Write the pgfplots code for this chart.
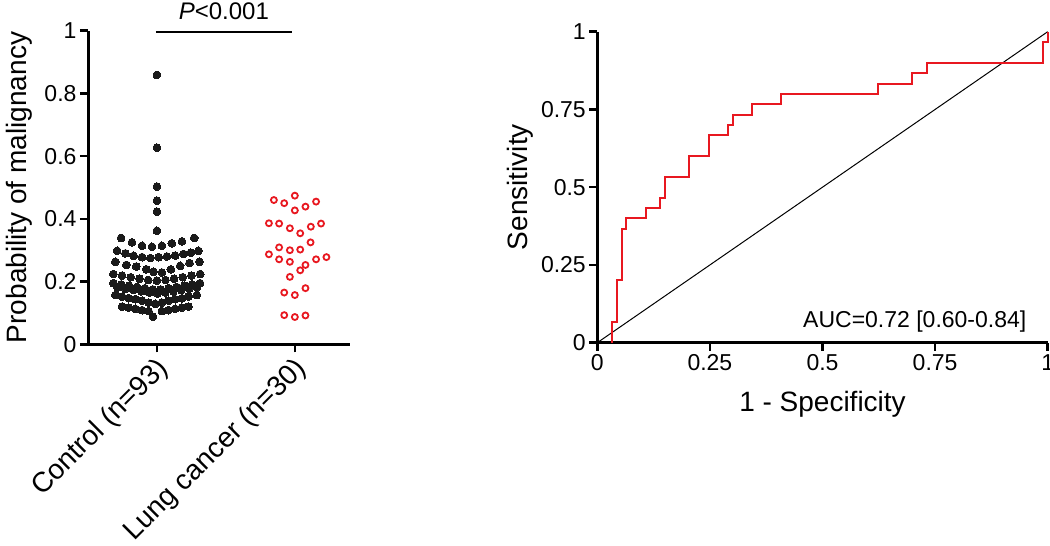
\documentclass[border=0pt]{standalone}
\usepackage{pgfplots}
\pgfplotsset{compat=1.18}
\usepackage{fontspec}
\setmainfont{Liberation Sans}
\definecolor{myred}{RGB}{232,24,32}
\definecolor{dotblack}{RGB}{26,26,26}
\begin{document}
\begin{tikzpicture}
\useasboundingbox (0pt,0pt) rectangle (1050pt,546pt);
\pgfplotsset{
  myaxis/.style={
    scale only axis,
    axis x line*=bottom, axis y line*=left,
    axis line style={line width=3pt, black},
    every tick/.style={line width=2.5pt, black},
    major tick length=8pt,
    tick align=outside,
    tick label style={font=\fontsize{23}{27}\selectfont, black},
    /pgf/number format/assume math mode=true,
    clip=false,
  }
}
% ---------------- left panel ----------------
\begin{axis}[myaxis, at={(88pt,201.7pt)}, anchor=south west,
  width=262pt, height=313.6pt,
  xmin=0.5, xmax=2.4, ymin=0, ymax=1,
  ytick={0,0.2,0.4,0.6,0.8,1}, yticklabels={0,0.2,0.4,0.6,0.8,1},
  xtick={1,2}, xticklabels={Control (n=93),Lung cancer (n=30)},
  xticklabel style={rotate=45, anchor=north east, yshift=3pt, font=\fontsize{28}{32}\selectfont},
  ylabel={Probability of malignancy},
  every axis y label/.style={at={(axis description cs:-0.263,0.5)}, rotate=90, anchor=center, font=\fontsize{28}{32}\selectfont},
]
\addplot[only marks, mark=*, mark size=3.9pt, mark options={fill=dotblack, draw=dotblack, line width=0pt}] coordinates {
(1.0,0.859) (1.0,0.627) (1.0,0.503) (1.0,0.458) (1.0,0.423) (1.0,0.362)
(0.740,0.339) (0.819,0.325) (0.892,0.314) (0.964,0.311) (1.036,0.314) (1.108,0.322) (1.181,0.328) (1.270,0.339)
(0.711,0.298) (0.771,0.290) (0.831,0.282) (0.892,0.278) (0.952,0.275) (1.012,0.278) (1.072,0.280) (1.132,0.283) (1.192,0.288) (1.246,0.292) (1.301,0.298)
(0.698,0.263) (0.778,0.253) (0.850,0.248) (0.923,0.239) (0.975,0.231) (1.036,0.229) (1.101,0.239) (1.168,0.250) (1.236,0.259) (1.308,0.263)
(0.684,0.224) (0.747,0.219) (0.810,0.214) (0.873,0.209) (0.936,0.205) (0.999,0.203) (1.062,0.205) (1.124,0.209) (1.187,0.214) (1.250,0.219) (1.313,0.224)
(0.684,0.195) (0.741,0.191) (0.798,0.187) (0.855,0.183) (0.913,0.179) (0.970,0.175) (1.027,0.175) (1.084,0.179) (1.141,0.183) (1.198,0.187) (1.255,0.191) (1.312,0.195)
(0.713,0.181) (0.771,0.177) (0.829,0.173) (0.886,0.169) (0.944,0.165) (1.002,0.162) (1.060,0.165) (1.118,0.169) (1.176,0.173) (1.234,0.177) (1.291,0.181)
(0.699,0.157) (0.747,0.152) (0.795,0.147) (0.843,0.144) (0.892,0.139) (0.939,0.133) (0.988,0.129) (1.036,0.133) (1.084,0.139) (1.132,0.144) (1.181,0.147) (1.228,0.152) (1.289,0.157)
(0.747,0.120) (0.795,0.117) (0.843,0.113) (0.892,0.109) (0.939,0.106) (1.036,0.106) (1.084,0.109) (1.132,0.113) (1.181,0.117) (1.228,0.120) (0.971,0.088)
};
\addplot[only marks, mark=o, mark size=3.0pt, mark options={draw=myred, line width=1.8pt}] coordinates {
(1.848,0.460) (1.923,0.450) (2.000,0.474) (2.000,0.427) (2.077,0.439) (2.154,0.455)
(1.812,0.386) (1.886,0.385) (1.964,0.370) (2.039,0.354) (2.116,0.375) (2.190,0.385)
(2.114,0.325) (1.886,0.309) (1.964,0.300) (2.039,0.302)
(1.812,0.287) (1.886,0.271) (1.964,0.263) (2.077,0.253) (2.154,0.271) (2.229,0.278)
(2.039,0.236) (1.964,0.215)
(1.923,0.165) (2.000,0.157) (2.077,0.179)
(1.923,0.093) (2.000,0.087) (2.077,0.092)
};
\draw[line width=1.6pt, black] (axis cs:0.993,0.995) -- (axis cs:1.983,0.995);
\node[font=\fontsize{24}{28}\selectfont] at (axis cs:1.485,1.063) {\textit{P}<0.001};
\end{axis}
% ---------------- ROC panel ----------------
\begin{axis}[myaxis, at={(597.3pt,203.3pt)}, anchor=south west,
  width=450.4pt, height=311pt,
  xmin=0, xmax=1, ymin=0, ymax=1,
  xtick={0,0.25,0.5,0.75,1}, xticklabels={0,0.25,0.5,0.75,1},
  ytick={0,0.25,0.5,0.75,1}, yticklabels={0,0.25,0.5,0.75,1},
  xlabel={1 - Specificity}, ylabel={Sensitivity},
  every axis y label/.style={at={(axis description cs:-0.1716,0.5)}, rotate=90, anchor=center, font=\fontsize{28}{32}\selectfont},
  every axis x label/.style={at={(axis description cs:0.5,-0.197)}, anchor=center, font=\fontsize{28}{32}\selectfont},
]
\addplot[black, line width=1pt] coordinates {(0,0) (1,1)};
\addplot[myred, line width=2pt, line join=miter] coordinates {
(0.0323,0) (0.0323,0.0667) (0.0430,0.0667) (0.0430,0.2) (0.0538,0.2) (0.0538,0.3667)
(0.0645,0.3667) (0.0645,0.4) (0.1075,0.4) (0.1075,0.4333) (0.1398,0.4333) (0.1398,0.4667)
(0.1505,0.4667) (0.1505,0.5333) (0.2043,0.5333) (0.2043,0.6) (0.2473,0.6) (0.2473,0.6667)
(0.2903,0.6667) (0.2903,0.7) (0.3011,0.7) (0.3011,0.7333) (0.3441,0.7333) (0.3441,0.7667)
(0.4086,0.7667) (0.4086,0.8) (0.6237,0.8) (0.6237,0.8333) (0.6989,0.8333) (0.6989,0.8667)
(0.7312,0.8667) (0.7312,0.9) (0.9892,0.9) (0.9892,0.9667) (1,0.9667) (1,1)
};
\node[anchor=base east, inner sep=0pt, font=\fontsize{23}{27}\selectfont] at (axis cs:0.953,0.0495) {AUC=0.72 [0.60-0.84]};
\end{axis}
\end{tikzpicture}
\end{document}
